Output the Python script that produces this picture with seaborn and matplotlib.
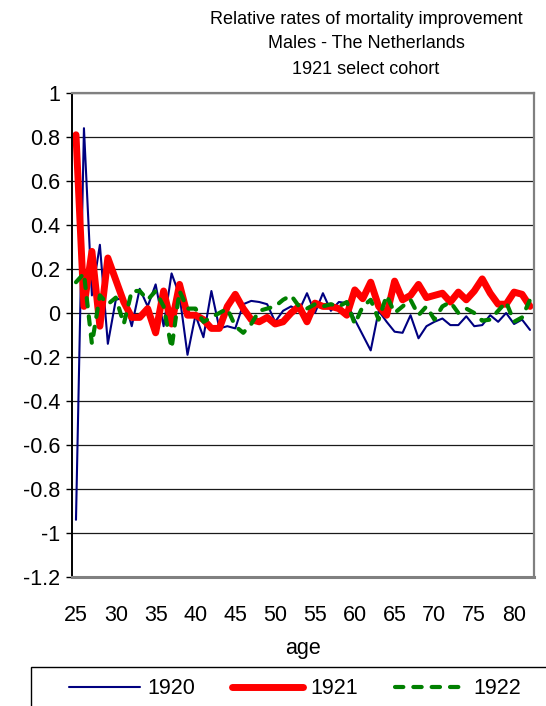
import numpy as np
import pandas as pd
import seaborn as sns
import matplotlib.pyplot as plt
from matplotlib.patches import Rectangle

# ages 25..82 (one value per age)
ages = list(range(25, 83))

rates_1920 = [
    -0.94, 0.84, 0.08, 0.31, -0.14, 0.06, 0.07, -0.06, 0.11, 0.03,
    0.13, -0.06, 0.18, 0.08, -0.19, -0.01, -0.11, 0.10, -0.07, -0.06,
    -0.07, 0.04, 0.055, 0.05, 0.04, -0.04, 0.01, 0.03, 0.01, 0.09,
    0.0, 0.09, 0.01, 0.05, 0.045, -0.03, -0.10, -0.17, 0.01, -0.04,
    -0.085, -0.09, -0.01, -0.115, -0.06, -0.04, -0.025, -0.055, -0.055, -0.015,
    -0.06, -0.055, -0.01, -0.04, 0.0, -0.05, -0.03, -0.077,
]

rates_1921 = [
    0.81, 0.03, 0.28, -0.06, 0.25, 0.15, 0.05, -0.02, -0.02, 0.02,
    -0.09, 0.10, -0.05, 0.13, -0.01, -0.01, -0.03, -0.07, -0.07, 0.03,
    0.085, 0.02, -0.03, -0.04, -0.02, -0.05, -0.04, 0.0, 0.03, -0.04,
    0.045, 0.03, 0.03, 0.02, -0.01, 0.105, 0.065, 0.14, 0.03, -0.01,
    0.145, 0.06, 0.08, 0.13, 0.07, 0.08, 0.09, 0.05, 0.095, 0.06,
    0.10, 0.155, 0.09, 0.04, 0.04, 0.095, 0.085, 0.03,
]

rates_1922 = [
    0.14, 0.18, -0.14, 0.08, 0.04, 0.07, -0.05, 0.10, 0.10, 0.06,
    0.10, 0.03, -0.16, 0.10, 0.02, 0.02, -0.04, -0.02, 0.0, 0.02,
    -0.06, -0.09, -0.05, 0.01, 0.02, 0.03, 0.06, 0.08, 0.03, 0.02,
    0.04, 0.03, 0.04, 0.03, 0.05, -0.05, 0.03, 0.06, -0.03, 0.08,
    0.0, 0.03, 0.06, -0.01, 0.03, -0.03, 0.03, 0.05, 0.0, 0.02,
    0.0, -0.035, -0.03, 0.01, 0.05, -0.04, -0.02, 0.06,
]

cohorts = ["1920", "1921", "1922"]
title_lines = ["Relative rates of mortality improvement",
               "Males - The Netherlands",
               "1921 select cohort"]

df = pd.DataFrame({
    "age": ages * 3,
    "rate": rates_1920 + rates_1921 + rates_1922,
    "cohort": [c for c in cohorts for _ in ages],
})

sns.set_theme(style="white")
plt.rcParams["font.family"] = ["Liberation Sans", "DejaVu Sans"]
plt.rcParams.update({"text.color": "black", "axes.labelcolor": "black",
                     "xtick.color": "black", "ytick.color": "black"})

W, H = 546, 706
fig = plt.figure(figsize=(W / 100, H / 100), dpi=100)
ax = fig.add_axes([72 / W, 1 - 577 / H, (534 - 72) / W, (577 - 93) / H])

palette = {"1920": "#000080", "1921": "#FF0000", "1922": "#008000"}
widths = {"1920": 1.5, "1921": 5.0, "1922": 3.0}

for c in cohorts:
    sub = df[df["cohort"] == c]
    sns.lineplot(data=sub, x="age", y="rate", ax=ax, color=palette[c],
                 linewidth=widths[c], label=c, legend=False,
                 solid_joinstyle="round", solid_capstyle="round")

green = ax.get_lines()[2]
green.set_dashes((2.0, 2.4))
green.set_dash_capstyle("round")

ax.set_xlim(24.5, 82.5)
ax.set_ylim(-1.2, 1.0)
ax.set_xticks(range(25, 81, 5))
yt = np.round(np.arange(-1.2, 1.01, 0.2), 1) + 0.0
ax.set_yticks(yt)
ax.set_yticklabels(["0" if abs(v) < 1e-9 else f"{v:g}" for v in yt])
ax.yaxis.grid(True, color="#1a1a1a", linewidth=0.9)
ax.set_axisbelow(True)

ax.tick_params(axis="x", length=0, pad=20, labelsize=15.5, labelcolor="black")
ax.tick_params(axis="y", left=True, length=4.3, width=1, color="black",
               pad=4, labelsize=15.5, labelcolor="black")
ax.set_xlabel("age", fontsize=15.5, labelpad=9, color="black")
ax.set_ylabel("")

for s in ["top", "right"]:
    ax.spines[s].set_color("#808080")
    ax.spines[s].set_linewidth(1.6)
ax.spines["bottom"].set_color("#808080")
ax.spines["bottom"].set_linewidth(2.2)
ax.spines["left"].set_color("black")
ax.spines["left"].set_linewidth(1.4)

for i, line in enumerate(title_lines):
    fig.text(366 / W, 1 - (19 + 25 * i) / H, line, ha="center", va="center",
             fontsize=13, color="black")

# legend box (runs off the right and bottom edge like the source)
fig.patches.append(Rectangle((31 / W, -0.05), 1.0, 0.05 + (706 - 667) / H,
                             transform=fig.transFigure, fill=False,
                             edgecolor="black", linewidth=1.0))
handles = ax.get_lines()[:3]
leg = fig.legend(handles, cohorts, loc="center",
                 bbox_to_anchor=(295 / W, 1 - 689 / H),
                 ncol=3, frameon=False, fontsize=15.5, handlelength=3.3,
                 handletextpad=0.35, columnspacing=1.7)
for t in leg.get_texts():
    t.set_color("black")

fig.savefig("out.png", dpi=100)
